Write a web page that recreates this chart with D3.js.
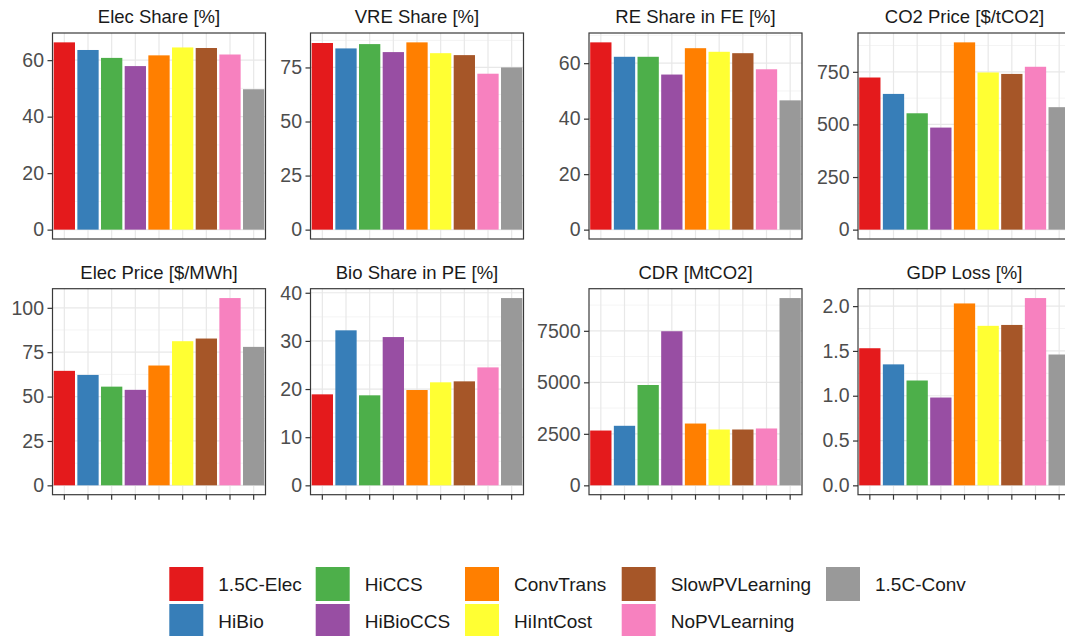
<!DOCTYPE html>
<html lang="en">
<head>
<meta charset="utf-8">
<title>Scenario comparison</title>
<script src="https://d3js.org/d3.v7.min.js" charset="utf-8"></script>
<style>
  body { margin: 0; background: #fff; }
  text { font-family: "Liberation Sans", Arial, sans-serif; }
</style>
</head>
<body>
<div id="dataviz"></div>
<script>

// scenarios (bar order and legend order)
var scenarios = ["1.5C-Elec", "HiBio", "HiCCS", "HiBioCCS", "ConvTrans",
                 "HiIntCost", "SlowPVLearning", "NoPVLearning", "1.5C-Conv"];

// values, one per scenario
var elecShare  = [66.3, 63.6, 60.8, 57.9, 61.7, 64.5, 64.3, 62.0, 49.7];
var vreShare   = [86.3, 83.8, 85.8, 82.1, 86.6, 81.6, 80.7, 72.1, 75.0];
var reShareFE  = [67.5, 62.3, 62.3, 55.9, 65.4, 64.1, 63.6, 57.8, 46.6];
var co2Price   = [723, 645, 553, 485, 890, 747, 740, 774, 582];
var elecPrice  = [64.5, 62.2, 55.6, 53.8, 67.5, 81.2, 82.7, 105.5, 78.0];
var bioSharePE = [18.9, 32.2, 18.7, 30.8, 19.8, 21.4, 21.6, 24.5, 38.9];
var cdr        = [2660, 2890, 4870, 7480, 3000, 2710, 2710, 2760, 9090];
var gdpLoss    = [1.53, 1.35, 1.17, 0.98, 2.03, 1.78, 1.79, 2.09, 1.46];

// panel titles and y tick values
var titles = ["Elec Share [%]", "VRE Share [%]", "RE Share in FE [%]", "CO2 Price [$/tCO2]",
              "Elec Price [$/MWh]", "Bio Share in PE [%]", "CDR [MtCO2]", "GDP Loss [%]"];
var yTicks = [
  [0, 20, 40, 60],
  [0, 25, 50, 75],
  [0, 20, 40, 60],
  [0, 250, 500, 750],
  [0, 25, 50, 75, 100],
  [0, 10, 20, 30, 40],
  [0, 2500, 5000, 7500],
  [0, 0.5, 1.0, 1.5, 2.0]
];
var tickFormats = ["d", "d", "d", "d", "d", "d", "d", ".1f"];

var panelValues = [elecShare, vreShare, reShareFE, co2Price,
                   elecPrice, bioSharePE, cdr, gdpLoss];

// layout
var W = 1065, H = 636;
var panelW = 213, panelH = 206;
var panelLefts = [52.5, 310.5, 589, 858];
var panelTops = [33, 288.7];

var color = d3.scaleOrdinal()
  .domain(scenarios)
  .range(d3.schemeSet1);

var svg = d3.select("#dataviz")
  .append("svg")
    .attr("width", W)
    .attr("height", H);

/*
=========================================== PANELS ===========================================
*/
panelValues.forEach(function(vals, p) {
  var col = p % 4, row = Math.floor(p / 4);
  var data = scenarios.map(function(s, i) { return {name: s, value: vals[i]}; });

  var g = svg.append("g")
    .attr("transform", "translate(" + panelLefts[col] + "," + panelTops[row] + ")");

  var x = d3.scaleBand()
    .domain(scenarios)
    .range([0, panelW])
    .paddingInner(0.1)
    .paddingOuter(0.05);

  // ggplot-style 5% expansion around [0, max]
  var m = d3.max(vals);
  var y = d3.scaleLinear()
    .domain([-0.05 * m, 1.05 * m])
    .range([panelH, 0]);

  // minor grid (halfway between breaks)
  var ticks = yTicks[p];
  var step = ticks[1] - ticks[0];
  var minor = [];
  ticks.concat([ticks[ticks.length - 1] + step]).forEach(function(t) {
    var v = t - step / 2;
    if (v > y.domain()[0] && v < y.domain()[1]) minor.push(v);
  });
  g.selectAll(".minor")
    .data(minor)
    .enter()
    .append("line")
      .attr("x1", 0).attr("x2", panelW)
      .attr("y1", function(d) { return y(d); })
      .attr("y2", function(d) { return y(d); })
      .attr("stroke", "#efefef")
      .attr("stroke-width", 0.7);

  // major grid
  g.selectAll(".hmajor")
    .data(ticks)
    .enter()
    .append("line")
      .attr("x1", 0).attr("x2", panelW)
      .attr("y1", function(d) { return y(d); })
      .attr("y2", function(d) { return y(d); })
      .attr("stroke", "#e8e8e8")
      .attr("stroke-width", 1.2);
  g.selectAll(".vmajor")
    .data(scenarios)
    .enter()
    .append("line")
      .attr("x1", function(d) { return x(d) + x.bandwidth() / 2; })
      .attr("x2", function(d) { return x(d) + x.bandwidth() / 2; })
      .attr("y1", 0).attr("y2", panelH)
      .attr("stroke", "#e8e8e8")
      .attr("stroke-width", 1.2);

  // bars
  g.selectAll(".bar")
    .data(data)
    .enter()
    .append("rect")
      .attr("x", function(d) { return x(d.name); })
      .attr("width", x.bandwidth())
      .attr("y", function(d) { return y(d.value); })
      .attr("height", function(d) { return y(0) - y(d.value); })
      .attr("fill", function(d) { return color(d.name); });

  // border
  g.append("rect")
    .attr("width", panelW)
    .attr("height", panelH)
    .attr("fill", "none")
    .attr("stroke", "#3a3a3a")
    .attr("stroke-width", 1.2);

  // y axis
  var yAxis = g.append("g")
    .call(d3.axisLeft(y)
      .tickValues(ticks)
      .tickFormat(d3.format(tickFormats[p]))
      .tickSize(5)
      .tickPadding(3.5));
  yAxis.select(".domain").remove();
  yAxis.selectAll(".tick line").attr("stroke", "#333333").attr("stroke-width", 1.2);
  yAxis.selectAll(".tick text")
    .attr("fill", "#4d4d4d")
    .style("font-size", "19.5px")
    .style("font-family", "'Liberation Sans', Arial, sans-serif");

  // x ticks only on the bottom row
  if (row === 1) {
    var xAxis = g.append("g")
      .attr("transform", "translate(0," + panelH + ")")
      .call(d3.axisBottom(x).tickSize(5).tickFormat(""));
    xAxis.select(".domain").remove();
    xAxis.selectAll(".tick line").attr("stroke", "#333333").attr("stroke-width", 1.2);
  }

  // title
  g.append("text")
    .attr("x", panelW / 2)
    .attr("y", -10)
    .attr("text-anchor", "middle")
    .attr("fill", "#1a1a1a")
    .style("font-size", "18.5px")
    .text(titles[p]);
});

/*
=========================================== LEGEND ===========================================
*/
var keySize = 34;
var legendCols = [169.3, 315.7, 465, 621.7, 826];
var legendRows = [567, 604];

var legend = svg.selectAll(".legend")
  .data(scenarios)
  .enter()
  .append("g")
    .attr("transform", function(d, i) {
      return "translate(" + legendCols[Math.floor(i / 2)] + "," + legendRows[i % 2] + ")";
    });
legend.append("rect")
  .attr("width", keySize)
  .attr("height", keySize)
  .attr("fill", function(d) { return color(d); });
legend.append("text")
  .attr("x", keySize + 15)
  .attr("y", keySize / 2)
  .attr("dy", "0.36em")
  .attr("fill", "#1a1a1a")
  .style("font-size", "19px")
  .text(function(d) { return d; });

</script>
</body>
</html>
